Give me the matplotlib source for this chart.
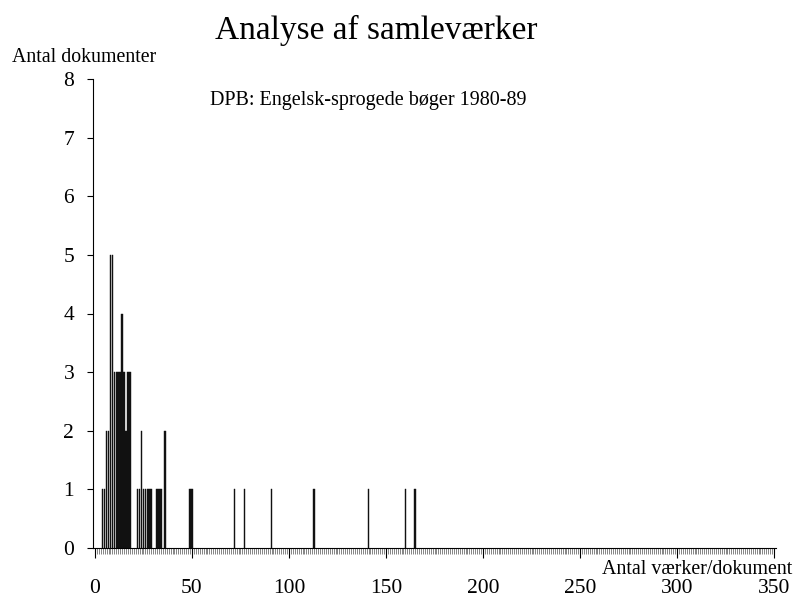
import numpy as np
import matplotlib
matplotlib.use('Agg')
import matplotlib.pyplot as plt

plt.rcParams['font.family'] = ['Liberation Serif', 'DejaVu Serif']

# antal vaerker pr. dokument -> antal dokumenter
vaerker = [4, 5, 6, 7, 8, 9, 10, 11, 12, 13, 14, 15, 16, 17, 18,
           22, 23, 24, 25, 26, 27, 28, 29, 32, 33, 34, 36, 49, 50,
           72, 77, 91, 113, 141, 160, 165]
dokumenter = [1, 1, 2, 2, 5, 5, 3, 3, 3, 3, 4, 3, 2, 3, 3,
              1, 1, 2, 1, 1, 1, 1, 1, 1, 1, 1, 2, 1, 1,
              1, 1, 1, 1, 1, 1, 1]
x_ticks = [0, 50, 100, 150, 200, 250, 300, 350]
y_ticks = [0, 1, 2, 3, 4, 5, 6, 7, 8]

fig = plt.figure(figsize=(7.95, 6.06), dpi=100)
ax = fig.add_axes([93/795., 1 - 548/606., (776 - 93)/795., (548 - 79)/606.])

ax.bar(vaerker, dokumenter, width=0.8, color='#111111', edgecolor='#111111', linewidth=0.3)

ax.set_xlim(-1, 351)
ax.set_ylim(0, 8)
ax.spines['top'].set_visible(False)
ax.spines['right'].set_visible(False)
ax.spines['left'].set_linewidth(0.8)
ax.spines['bottom'].set_linewidth(0.8)

ax.set_xticks(x_ticks)
ax.set_xticks(np.arange(0, 351, 1), minor=True)
ax.set_yticks(y_ticks)
ax.tick_params(axis='x', which='major', direction='out', length=7.5, width=0.8, pad=15, labelsize=15.5)
ax.tick_params(axis='x', which='minor', direction='out', length=4, width=0.5, color='#555555')
ax.tick_params(axis='y', which='major', direction='out', length=4.5, width=0.8, pad=9, labelsize=15.5)

fig.text(376/795., 1 - 30/606., 'Analyse af samleværker', ha='center', va='center', fontsize=24)
fig.text(12/795., 1 - 58/606., 'Antal dokumenter', ha='left', va='center', fontsize=14.3)
fig.text(210/795., 1 - 100/606., 'DPB: Engelsk-sprogede bøger 1980-89', ha='left', va='center', fontsize=14.5)
fig.text(792/795., 1 - 569/606., 'Antal værker/dokument', ha='right', va='center', fontsize=14.4)

fig.savefig('out.png', dpi=100)
